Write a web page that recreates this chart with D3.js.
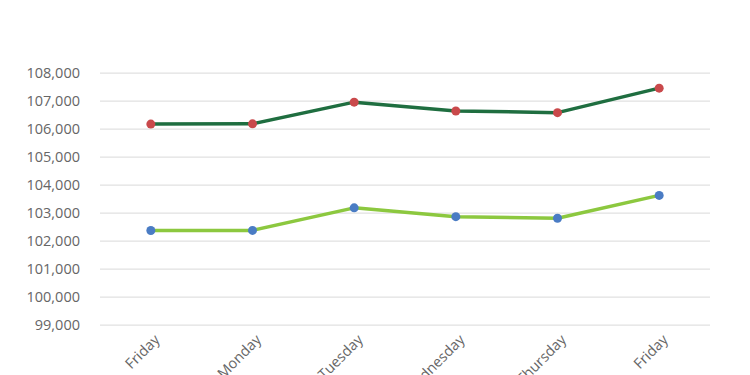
<!DOCTYPE html>
<html>
<head>
<meta charset="utf-8">
<script src="https://cdn.jsdelivr.net/npm/d3@7"></script>
<style>
  body { margin: 0; background: #fff; }
  .axis text { font-family: "Open Sans", sans-serif; font-size: 14.5px; fill: #666; }
  .axis path, .axis line { stroke: none; }
  .grid line { stroke: #d9d9d9; stroke-width: 1; }
  .grid path { stroke: none; }
</style>
</head>
<body>
<div id="chart"></div>
<script>
const days = ["Friday", "Monday", "Tuesday", "Wednesday", "Thursday", "Friday"];
const upperSeries = [106160, 106170, 106945, 106630, 106570, 107445];
const lowerSeries = [102360, 102365, 103170, 102855, 102800, 103615];
const yTicks = [99000, 100000, 101000, 102000, 103000, 104000, 105000, 106000, 107000, 108000];

const width = 750, height = 375;
const plotLeft = 100, plotRight = 710, plotTop = 72.6, plotBottom = 324.6;

const svg = d3.select("#chart").append("svg")
    .attr("width", width)
    .attr("height", height);

// index-based band so the two Fridays stay apart
const x = d3.scaleBand().domain(d3.range(days.length)).range([plotLeft, plotRight]);
const cx = i => x(i) + x.bandwidth() / 2;
const y = d3.scaleLinear().domain([99000, 108000]).range([plotBottom, plotTop]);

// horizontal gridlines
svg.append("g")
    .attr("class", "grid")
    .attr("transform", "translate(" + plotLeft + ",0)")
    .call(d3.axisLeft(y).tickValues(yTicks).tickSize(-(plotRight - plotLeft)).tickFormat(""));

// y labels
svg.append("g")
    .attr("class", "axis")
    .attr("transform", "translate(" + (plotLeft - 17) + ",0)")
    .call(d3.axisLeft(y).tickValues(yTicks).tickSize(0).tickFormat(d3.format(",")))
    .selectAll("text").attr("dy", "0.35em");

// x labels, rotated like the spreadsheet export
svg.append("g")
    .attr("class", "axis")
    .selectAll("text")
    .data(days)
    .enter()
    .append("text")
    .attr("text-anchor", "end")
    .attr("transform", (d, i) => "translate(" + (cx(i) + 2) + "," + 333 + ") rotate(-45)")
    .attr("dy", "0.75em")
    .text(d => d);

const line = d3.line()
    .x((d, i) => cx(i))
    .y(d => y(d));

function drawSeries(values, lineColor, dotColor) {
  svg.append("path")
      .attr("d", line(values))
      .attr("fill", "none")
      .attr("stroke", lineColor)
      .attr("stroke-width", 3.5)
      .attr("stroke-linejoin", "round");

  svg.append("g").selectAll("circle")
      .data(values)
      .enter()
      .append("circle")
      .attr("cx", (d, i) => cx(i))
      .attr("cy", d => y(d))
      .attr("r", 4.5)
      .attr("fill", dotColor);
}

drawSeries(upperSeries, "#1f6e40", "#c9494b");
drawSeries(lowerSeries, "#8cc83f", "#4a7cc4");
</script>
</body>
</html>
